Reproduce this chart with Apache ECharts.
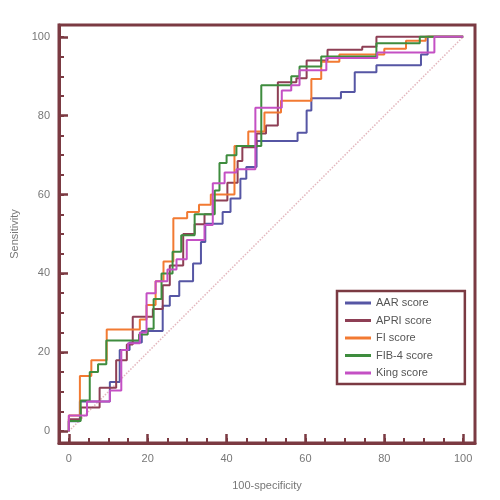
<!DOCTYPE html>
<html><head><meta charset="utf-8">
<script src="https://cdn.jsdelivr.net/npm/echarts@6/dist/echarts.min.js"></script>
<style>html,body{margin:0;padding:0;background:#fff}#c{width:500px;height:500px}</style>
</head><body><div id="c"></div>
<script>
// ROC step curves (x = 100-specificity, y = sensitivity), corner points
const aarX  = [0,0,2.8,2.8,10.4,10.4,12.9,12.9,15.4,15.4,18.5,18.5,23.8,23.8,25.6,25.6,28,28,31.5,31.5,33.5,33.5,34.6,34.6,39,39,41,41,43.5,43.5,45,45,47.6,47.6,58,58,60.3,60.3,61.5,61.5,69,69,72.5,72.5,78,78,89.3,89.3,91,91,100];
const aarY  = [0,2.5,2.5,7.5,7.5,12.5,12.5,20.6,20.6,22.5,22.5,25.4,25.4,31.8,31.8,34.3,34.3,38,38,42.5,42.5,48,48,52.6,52.6,55.6,55.6,59,59,64,64,67,67,73.6,73.6,75.7,75.7,81.3,81.3,84.4,84.4,86,86,91,91,92.8,92.8,95.5,95.5,100,100];
const apriX = [0,0,3,3,7.8,7.8,12,12,14.7,14.7,16.2,16.2,21.3,21.3,23.8,23.8,25.6,25.6,29,29,31.9,31.9,34.4,34.4,36.5,36.5,40.2,40.2,42.8,42.8,44,44,47.6,47.6,50,50,53,53,57.7,57.7,60.3,60.3,65.6,65.6,74.4,74.4,78,78,91,91,100];
const apriY = [0,3,3,6,6,11,11,18,18,22,22,29,29,31,31,37,37,42,42,50,50,52.5,52.5,55,55,58.5,58.5,63,63,68.5,68.5,72,72,75.5,75.5,77.5,77.5,88.5,88.5,89.5,89.5,94,94,96.7,96.7,97.5,97.5,100,100,100,100];
const fiX   = [0,0,2.8,2.8,5.7,5.7,9.6,9.6,18,18,19.7,19.7,22,22,24,24,26.5,26.5,30,30,33,33,36,36,42,42,45.5,45.5,49.6,49.6,53.8,53.8,61.5,61.5,64,64,68.6,68.6,80,80,85.5,85.5,90.5,90.5,100];
const fiY   = [0,4,4,14,14,18,18,25.8,25.8,28.3,28.3,32,32,38,38,43,43,54,54,55.6,55.6,57.4,57.4,60,60,72.3,72.3,76,76,80.8,80.8,83.8,83.8,89.3,89.3,93.7,93.7,95.5,95.5,97,97,99,99,100,100];
const fibX  = [0,0,3,3,5.3,5.3,7.4,7.4,9.5,9.5,17.8,17.8,20,20,21.5,21.5,23.5,23.5,26.3,26.3,28.5,28.5,31.9,31.9,37,37,38.2,38.2,40,40,42.5,42.5,48.8,48.8,56.4,56.4,58.5,58.5,64,64,78,78,89,89,100];
const fibY  = [0,2.6,2.6,7.8,7.8,15,15,17,17,23,23,24.5,24.5,26,26,33.5,33.5,40,40,45.5,45.5,49.7,49.7,55,55,61,61,68,68,70,70,72.3,72.3,87.7,87.7,90,90,92.5,92.5,95,95,98.4,98.4,100,100];
const kingX = [0,0,4.6,4.6,10.4,10.4,13.3,13.3,15,15,18,18,19.7,19.7,22,22,25,25,27.3,27.3,29.9,29.9,34.4,34.4,36.5,36.5,39.5,39.5,42.5,42.5,47.3,47.3,54,54,56.4,56.4,58.5,58.5,65.3,65.3,78.2,78.2,92.7,92.7,100];
const kingY = [0,4,4,7.5,7.5,10.3,10.3,20.6,20.6,22.3,22.3,25,25,35,35,38,38,41,41,43.6,43.6,48.5,48.5,52.3,52.3,62.9,62.9,65.6,65.6,66.4,66.4,82,82,86.4,86.4,87.7,87.7,91.5,91.5,94.6,94.6,96,96,100,100];
const seriesNames = ['AAR score','APRI score','FI score','FIB-4 score','King score'];
const seriesColors = ['#5656a4','#8e3f55','#f27a32','#3e8c3e','#c450c4'];
const minorTicks = [0,5,10,15,20,25,30,35,40,45,50,55,60,65,70,75,80,85,90,95,100];
const majorTicks = [0,20,40,60,80,100];

const zip = (xs, ys) => xs.map((x, i) => [x, ys[i]]);
const curves = [zip(aarX,aarY), zip(apriX,apriY), zip(fiX,fiY), zip(fibX,fibY), zip(kingX,kingY)];
const frame = '#7b3a42';

const chart = echarts.init(document.getElementById('c'), null, {renderer:'canvas'});
const baseAxis = (min, max) => ({type:'value', min, max, splitLine:{show:false}});
chart.setOption({
  animation:false,
  backgroundColor:'#fff',
  grid:{left:59, top:25, width:416, height:418, show:true, borderColor:frame, borderWidth:3, backgroundColor:'transparent'},
  xAxis:[
    Object.assign(baseAxis(-2.5,103), {position:'bottom',
      axisLine:{show:true, onZero:false, lineStyle:{color:frame, width:3}},
      axisTick:{show:true, inside:true, length:5, lineStyle:{color:frame, width:2}, customValues:minorTicks},
      axisLabel:{color:'#777', fontSize:11, fontFamily:'Liberation Sans', margin:10, customValues:majorTicks},
      name:'100-specificity', nameLocation:'middle', nameGap:37,
      nameTextStyle:{color:'#777', fontSize:11, fontFamily:'Liberation Sans'}}),
    Object.assign(baseAxis(-2.5,103), {position:'bottom',
      axisLine:{show:false, onZero:false},
      axisTick:{show:true, inside:true, length:9, lineStyle:{color:frame, width:2.5}, customValues:majorTicks},
      axisLabel:{show:false}})
  ],
  yAxis:[
    Object.assign(baseAxis(-3,103), {position:'left',
      axisLine:{show:true, onZero:false, lineStyle:{color:frame, width:3}},
      axisTick:{show:true, inside:true, length:5, lineStyle:{color:frame, width:2}, customValues:minorTicks},
      axisLabel:{color:'#777', fontSize:11, fontFamily:'Liberation Sans', margin:9, customValues:majorTicks},
      name:'Sensitivity', nameLocation:'middle', nameGap:38, nameRotate:90,
      nameTextStyle:{color:'#777', fontSize:11, fontFamily:'Liberation Sans'}}),
    Object.assign(baseAxis(-3,103), {position:'left',
      axisLine:{show:false, onZero:false},
      axisTick:{show:true, inside:true, length:9, lineStyle:{color:frame, width:2.5}, customValues:majorTicks},
      axisLabel:{show:false}})
  ],
  legend:{
    orient:'vertical', left:337, top:291, data:seriesNames,
    icon:'rect', itemWidth:26, itemHeight:3, itemGap:5.5,
    padding:[6,32,5,8],
    borderColor:frame, borderWidth:2.5, backgroundColor:'#fff',
    textStyle:{color:'#555', fontSize:11, fontFamily:'Liberation Sans', lineHeight:12}
  },
  series:[
    {type:'line', name:'diag', data:[[0,0],[100,100]], symbol:'none', silent:true,
      lineStyle:{color:'#e3b6bd', width:1.5, type:'dotted'}, z:1}
  ].concat(curves.map((d, i) => ({
    type:'line', name:seriesNames[i], data:d, symbol:'none', showSymbol:false,
    color:seriesColors[i], lineStyle:{color:seriesColors[i], width:2}, z:2+i
  })))
});
</script></body></html>
